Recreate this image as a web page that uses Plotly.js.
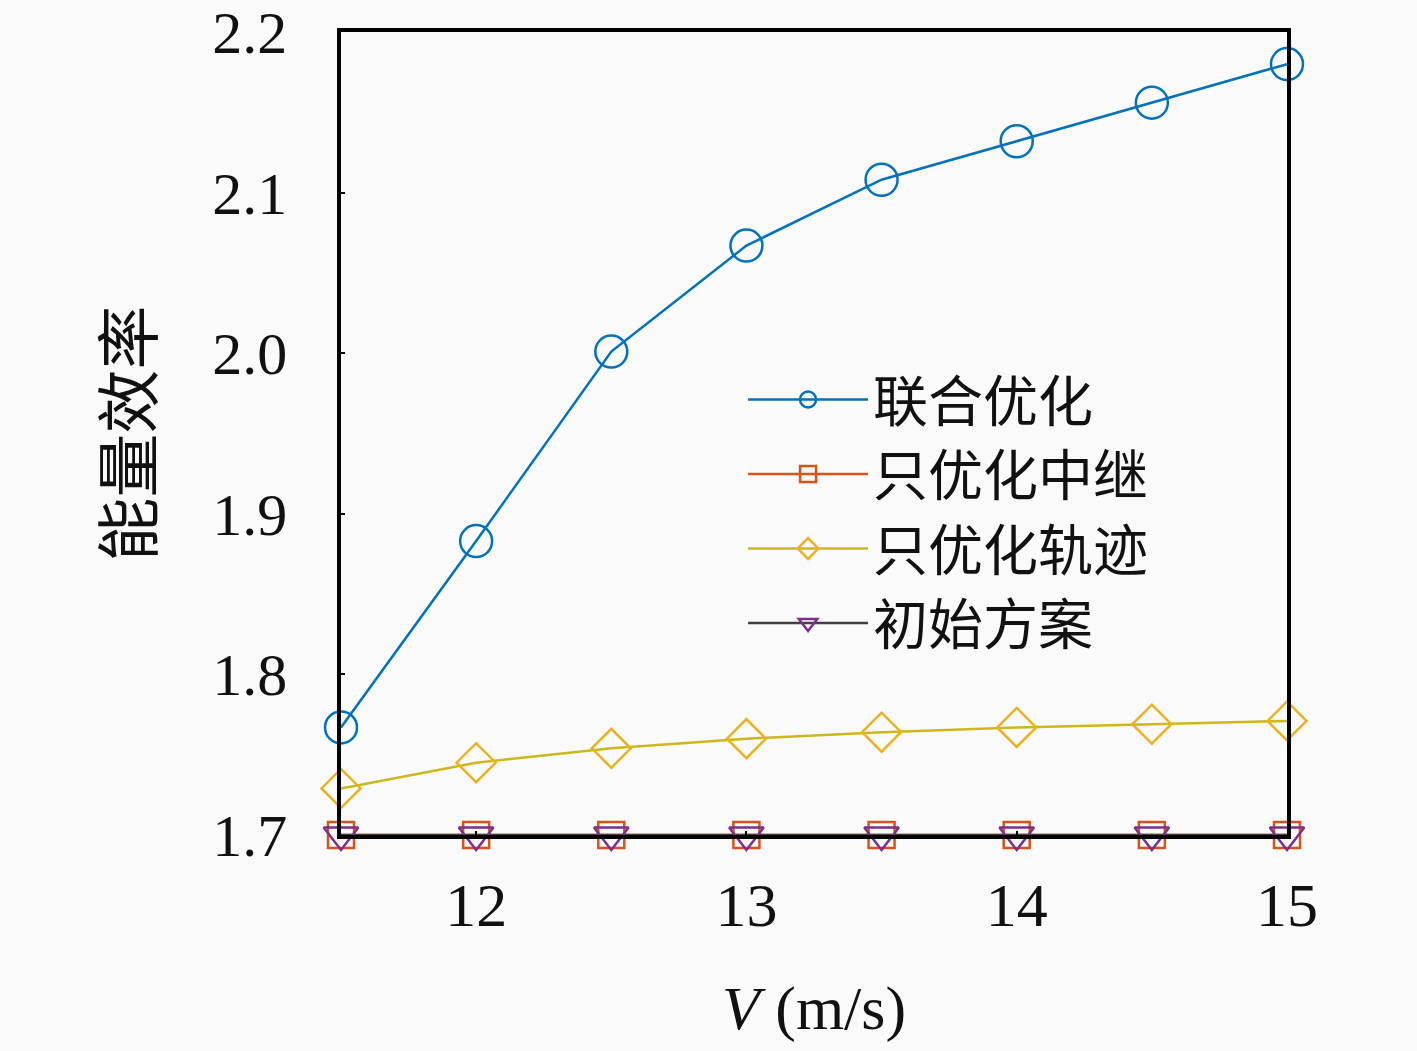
<!DOCTYPE html>
<html>
<head>
<meta charset="utf-8">
<script src="https://cdn.plot.ly/plotly-3.0.1.min.js"></script>
<style>
  html, body { margin: 0; padding: 0; background: #fafafa; }
  #chart { width: 1417px; height: 1051px; }
</style>
</head>
<body>
<div id="chart"></div>
<script>
// 速度 V (m/s)
var speeds = [11.5, 12, 12.5, 13, 13.5, 14, 14.5, 15];

// 能量效率
var jointOpt = [1.767, 1.883, 2.001, 2.067, 2.108, 2.132, 2.156, 2.180];
var relayOnly = [1.700, 1.700, 1.700, 1.700, 1.700, 1.700, 1.700, 1.700];
var trajOnly = [1.729, 1.745, 1.754, 1.760, 1.764, 1.767, 1.769, 1.771];
var initial = [1.700, 1.700, 1.700, 1.700, 1.700, 1.700, 1.700, 1.700];

var names = ['联合优化', '只优化中继', '只优化轨迹', '初始方案'];
var xTicks = [12, 13, 14, 15];
var yTicks = [1.7, 1.8, 1.9, 2.0, 2.1, 2.2];
var yTickText = ['1.7', '1.8', '1.9', '2.0', '2.1', '2.2'];

var serif = '"Liberation Serif", "DejaVu Serif", serif';
var cjk = '"Noto Sans CJK SC", "Noto Sans", sans-serif';

function series(y, name, lineColor, markerColor, symbol, size) {
    return {
        x: speeds,
        y: y,
        name: name,
        type: 'scatter',
        mode: 'lines+markers',
        cliponaxis: false,
        line: {color: lineColor, width: 2.5},
        marker: {
            symbol: symbol,
            size: size,
            color: markerColor,
            line: {color: markerColor, width: 2.5}
        }
    };
}

var data = [
    series(jointOpt, names[0], '#0072BD', '#0072BD', 'circle-open', 32),
    series(relayOnly, names[1], '#D95319', '#D95319', 'square-open', 26),
    series(trajOnly, names[2], '#CDB81C', '#EDB120', 'diamond-open', 30),
    series(initial, names[3], '#404040', '#7E2F8E', 'triangle-down-open', 30)
];

var layout = {
    width: 1417,
    height: 1051,
    margin: {l: 341, r: 130, t: 32, b: 216, pad: 0},
    paper_bgcolor: '#fafafa',
    plot_bgcolor: '#fafafa',
    showlegend: true,
    legend: {
        x: 0.425,
        y: 0.595,
        xanchor: 'left',
        yanchor: 'top',
        bgcolor: 'rgba(0,0,0,0)',
        font: {family: cjk, size: 55, color: '#111'},
        itemwidth: 120
    },
    xaxis: {
        range: [11.5, 15],
        tickvals: xTicks,
        ticks: 'inside',
        ticklen: 4,
        tickwidth: 2,
        tickcolor: '#000',
        showline: true,
        linecolor: '#000',
        linewidth: 3.5,
        mirror: true,
        showgrid: false,
        zeroline: false,
        ticklabelstandoff: 13,
        tickfont: {family: serif, size: 62, color: '#111'},
        title: {
            text: '<i>V</i> (m/s)',
            font: {family: serif, size: 62, color: '#111'},
            standoff: 48
        }
    },
    yaxis: {
        range: [1.7, 2.2],
        tickvals: yTicks,
        ticktext: yTickText,
        ticks: 'inside',
        ticklen: 4,
        tickwidth: 2,
        tickcolor: '#000',
        showline: true,
        linecolor: '#000',
        linewidth: 3.5,
        mirror: true,
        showgrid: false,
        zeroline: false,
        ticklabelstandoff: 38,
        ticklabeloverflow: 'allow',
        tickfont: {family: serif, size: 60, color: '#111'},
        title: {
            text: '能量效率',
            font: {family: cjk, size: 64, color: '#111'},
            standoff: 40
        }
    }
};

Plotly.newPlot('chart', data, layout, {displayModeBar: false});
</script>
</body>
</html>
